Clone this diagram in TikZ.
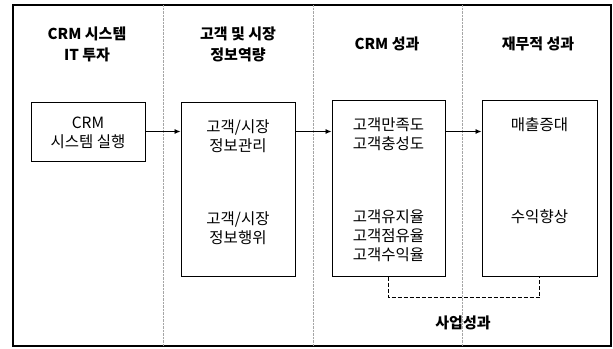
\documentclass[tikz,border=0pt]{standalone}
\usepackage{fontspec}
\setmainfont{Noto Sans CJK KR}
\usetikzlibrary{arrows.meta}
\tikzset{
  box/.style={draw, line width=1pt, inner sep=0pt},
  lbl/.style={font=\fontsize{15.5}{19}\selectfont, align=center, inner sep=0pt},
  head/.style={font=\fontsize{15}{21}\selectfont\bfseries, align=center, inner sep=0pt},
  flow/.style={-{Latex[length=6pt,width=5pt]}, line width=0.9pt}
}
\begin{document}
\begin{tikzpicture}[x=1pt,y=-1pt]
\useasboundingbox (0,0) rectangle (613,348);
\draw[line width=1.2pt] (13,5) rectangle (611,346);
\foreach \x in {163,313,462} \draw[gray!70, densely dotted] (\x,5) -- (\x,346);
% column heads
\node (h1) at (87,44) [head] {CRM 시스템\\IT 투자};
\node (h2) at (238,44) [head] {고객 및 시장\\정보역량};
\node (h3) at (387,44) [head] {CRM 성과};
\node (h4) at (538,44) [head] {재무적 성과};
% boxes
\node (b1) at (88,131.5) [box, minimum width=114pt, minimum height=59pt] {};
\node (b2) at (238,189) [box, minimum width=114pt, minimum height=174pt] {};
\node (b3) at (388.5,188) [box, minimum width=113pt, minimum height=176pt] {};
\node (b4) at (539.5,188) [box, minimum width=115pt, minimum height=176pt] {};
\node (t1) at (88,133) [lbl] {CRM\\시스템 실행};
\node (t2a) at (238,136) [lbl] {고객/시장\\정보관리};
\node (t2b) at (238,228) [lbl] {고객/시장\\정보행위};
\node (t3a) at (388.5,134) [lbl] {고객만족도\\고객충성도};
\node (t3b) at (388.5,236) [lbl] {고객유지율\\고객점유율\\고객수익율};
\node (t4a) at (539.5,125) [lbl] {매출증대};
\node (t4b) at (539.5,217) [lbl] {수익향상};
\node (bp) at (463,323) [head] {사업성과};
% connectors
\draw[flow] (b1.east) -- (b2.west |- b1.east);
\draw[flow] (b2.east |- b1.east) -- (b3.west |- b1.east);
\draw[flow] (b3.east |- b1.east) -- (b4.west |- b1.east);
\draw[dash pattern=on 4pt off 2pt, line width=1pt] (b3.south) -- ++(0,21) -| (b4.south);
\end{tikzpicture}
\end{document}
